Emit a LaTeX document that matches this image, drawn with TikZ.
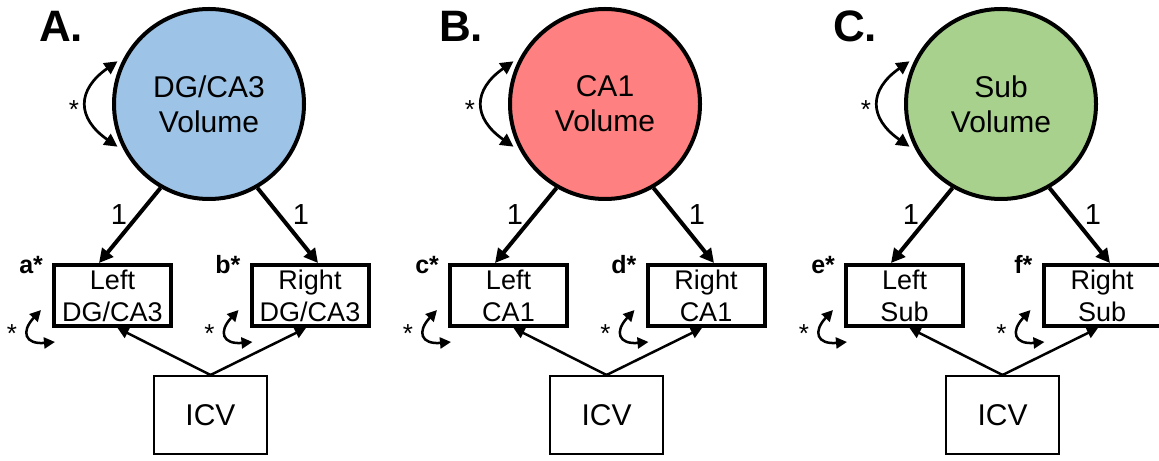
\documentclass[tikz,border=0pt]{standalone}
\usepackage{fontspec}
\setmainfont{Liberation Sans}
\usetikzlibrary{arrows.meta}
\definecolor{dgblue}{RGB}{157,195,230}
\definecolor{cared}{RGB}{255,128,128}
\definecolor{subgreen}{RGB}{169,209,142}

\begin{document}
\begin{tikzpicture}[
    x=0.5pt, y=0.5pt,
    latent/.style={circle, draw, line width=2pt, minimum size=95pt, inner sep=0pt, align=center, font=\fontsize{15}{17.5}\selectfont},
    observed/.style={rectangle, draw, line width=2pt, minimum width=58.5pt, minimum height=30.5pt, inner sep=0pt, align=center, font=\fontsize{13.5}{16}\selectfont},
    covariate/.style={rectangle, draw, line width=1pt, minimum width=56.5pt, minimum height=39pt, font=\fontsize{15}{18}\selectfont},
    loading/.style={->, line width=2pt, >={Triangle[length=7pt, width=7pt]}},
    regress/.style={->, line width=1.25pt, >={Triangle[length=5.5pt, width=5.5pt]}},
    latvar/.style={<->, line width=1.35pt, >={Triangle[length=6.5pt, width=6.5pt]}},
    errvar/.style={<->, line width=1.25pt, >={Triangle[length=5.5pt, width=5.5pt]}},
    weight/.style={anchor=base, font=\fontsize{14.5}{16}\selectfont},
    star/.style={anchor=base, font=\fontsize{13}{15}\selectfont},
    param/.style={anchor=base east, font=\bfseries\fontsize{12.5}{14}\selectfont},
    panel/.style={anchor=base west, font=\bfseries\fontsize{22}{24}\selectfont}
]
    \useasboundingbox (0,0) rectangle (1159,460);

    % A: DG/CA3
    \node[panel] (tagA) at (32,418) {A.};
    \node[latent, fill=dgblue] (dgca3) at (209,356) {DG/CA3\\Volume};
    \node[observed] (leftdg) at (112.5,164.5) {Left\\DG/CA3};
    \node[observed] (rightdg) at (310,164.5) {Right\\DG/CA3};
    \node[covariate] (icvdg) at (210.5,45) {ICV};

    \draw[loading] (dgca3.240) -- ([shift={(-13.5,0)}]leftdg.north);
    \draw[loading] (dgca3.300) -- ([shift={(8,0)}]rightdg.north);
    \node[weight] (wldg) at (119,235) {1};
    \node[weight] (wrdg) at (301,235) {1};
    \draw[regress] (icvdg.north) -- ([shift={(5,0)}]leftdg.south);
    \draw[regress] (icvdg.north) -- ([shift={(-4,0)}]rightdg.south);

    \draw[latvar] ([shift={(205:101)}]dgca3.center) to[out=145, in=215, looseness=1.5] ([shift={(155:101)}]dgca3.center);
    \node[star] (vdg) at (74,341) {*};
    \draw[errvar] ([shift={(3,-14)}]leftdg.south west) to[out=185, in=227, looseness=2.2] ([shift={(-11,18)}]leftdg.south west);
    \draw[errvar] ([shift={(3,-14)}]rightdg.south west) to[out=185, in=227, looseness=2.2] ([shift={(-11,18)}]rightdg.south west);
    \node[star] (eldg) at ([shift={(-40,-14)}]leftdg.south west) {*};
    \node[star] (erdg) at ([shift={(-40,-14)}]rightdg.south west) {*};
    \node[param] (pa) at ([shift={(-2,-11)}]leftdg.north west) {a*};
    \node[param] (pb) at ([shift={(-2,-11)}]rightdg.north west) {b*};

    % B: CA1
    \node[panel] (tagB) at (432,418) {B.};
    \node[latent, fill=cared] (ca1) at (605,356) {CA1\\Volume};
    \node[observed] (leftca) at (508.5,164.5) {Left\\CA1};
    \node[observed] (rightca) at (706,164.5) {Right\\CA1};
    \node[covariate] (icvca) at (606.5,45) {ICV};

    \draw[loading] (ca1.240) -- ([shift={(-13.5,0)}]leftca.north);
    \draw[loading] (ca1.300) -- ([shift={(8,0)}]rightca.north);
    \node[weight] (wlca) at (515,235) {1};
    \node[weight] (wrca) at (697,235) {1};
    \draw[regress] (icvca.north) -- ([shift={(5,0)}]leftca.south);
    \draw[regress] (icvca.north) -- ([shift={(-4,0)}]rightca.south);

    \draw[latvar] ([shift={(205:101)}]ca1.center) to[out=145, in=215, looseness=1.5] ([shift={(155:101)}]ca1.center);
    \node[star] (vca) at (470,341) {*};
    \draw[errvar] ([shift={(3,-14)}]leftca.south west) to[out=185, in=227, looseness=2.2] ([shift={(-11,18)}]leftca.south west);
    \draw[errvar] ([shift={(3,-14)}]rightca.south west) to[out=185, in=227, looseness=2.2] ([shift={(-11,18)}]rightca.south west);
    \node[star] (elca) at ([shift={(-40,-14)}]leftca.south west) {*};
    \node[star] (erca) at ([shift={(-40,-14)}]rightca.south west) {*};
    \node[param] (pc) at ([shift={(-2,-11)}]leftca.north west) {c*};
    \node[param] (pd) at ([shift={(-2,-11)}]rightca.north west) {d*};

    % C: Sub
    \node[panel] (tagC) at (826,418) {C.};
    \node[latent, fill=subgreen] (sub) at (1001,356) {Sub\\Volume};
    \node[observed] (leftsub) at (904.5,164.5) {Left\\Sub};
    \node[observed] (rightsub) at (1102,164.5) {Right\\Sub};
    \node[covariate] (icvsub) at (1002.5,45) {ICV};

    \draw[loading] (sub.240) -- ([shift={(-13.5,0)}]leftsub.north);
    \draw[loading] (sub.300) -- ([shift={(8,0)}]rightsub.north);
    \node[weight] (wlsub) at (911,235) {1};
    \node[weight] (wrsub) at (1093,235) {1};
    \draw[regress] (icvsub.north) -- ([shift={(5,0)}]leftsub.south);
    \draw[regress] (icvsub.north) -- ([shift={(-4,0)}]rightsub.south);

    \draw[latvar] ([shift={(205:101)}]sub.center) to[out=145, in=215, looseness=1.5] ([shift={(155:101)}]sub.center);
    \node[star] (vsub) at (866,341) {*};
    \draw[errvar] ([shift={(3,-14)}]leftsub.south west) to[out=185, in=227, looseness=2.2] ([shift={(-11,18)}]leftsub.south west);
    \draw[errvar] ([shift={(3,-14)}]rightsub.south west) to[out=185, in=227, looseness=2.2] ([shift={(-11,18)}]rightsub.south west);
    \node[star] (elsub) at ([shift={(-40,-14)}]leftsub.south west) {*};
    \node[star] (ersub) at ([shift={(-40,-14)}]rightsub.south west) {*};
    \node[param] (pe) at ([shift={(-2,-11)}]leftsub.north west) {e*};
    \node[param] (pf) at ([shift={(-2,-11)}]rightsub.north west) {f*};
\end{tikzpicture}
\end{document}
